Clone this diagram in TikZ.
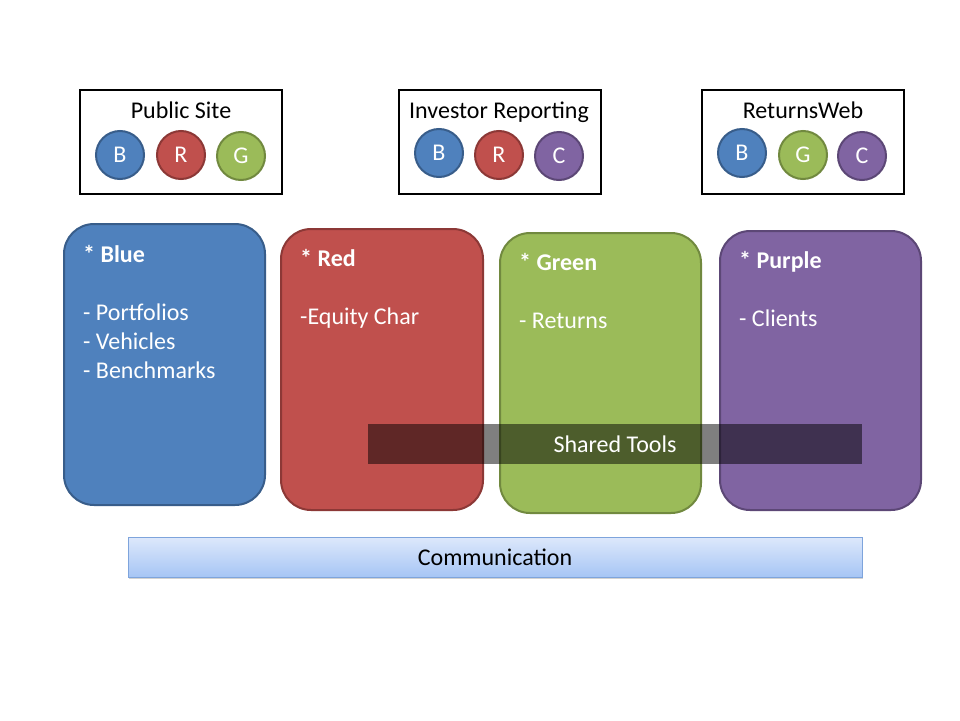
\documentclass[tikz,border=0pt]{standalone}
\usepackage{fontspec}
\setmainfont{Carlito}
\usetikzlibrary{shadows}
\definecolor{bfill}{HTML}{4F81BD}\definecolor{bline}{HTML}{385D8A}
\definecolor{rfill}{HTML}{C0504D}\definecolor{rline}{HTML}{8C3836}
\definecolor{gfill}{HTML}{9BBB59}\definecolor{gline}{HTML}{71893F}
\definecolor{pfill}{HTML}{8064A2}\definecolor{pline}{HTML}{5C4776}
\definecolor{commtop}{HTML}{DDE8FB}\definecolor{commbot}{HTML}{A6C5F5}
\definecolor{commline}{HTML}{7EA4DC}
\begin{document}
\begin{tikzpicture}[x=1pt,y=-1pt,
  every node/.style={font=\fontsize{24}{29}\selectfont},
  sitebox/.style={draw=black,line width=2.4pt,fill=white},
  sitetitle/.style={anchor=base,text=black,inner sep=0pt},
  dot/.style={circle,minimum size=48pt,inner sep=0pt,line width=2pt,text=white},
  dotb/.style={dot,fill=bfill,draw=bline},
  dotr/.style={dot,fill=rfill,draw=rline},
  dotg/.style={dot,fill=gfill,draw=gline},
  dotp/.style={dot,fill=pfill,draw=pline},
  group/.style={rounded corners=30pt,line width=2pt},
  grouptext/.style={anchor=north west,text=white,align=left,inner sep=0pt}]
\useasboundingbox (0,0) rectangle (960,720);
\fill[white] (0,0) rectangle (960,720);

% site boxes with their colour dots
\draw[sitebox] (80,90) rectangle (282,194);
\node[sitetitle] (pst) at (181,118) {Public Site};
\node[dotb] (psb) at (120,155) {B};
\node[dotr] (psr) at (181,155) {R};
\node[dotg] (psg) at (241,156) {G};

\draw[sitebox] (399,90) rectangle (601,194);
\node[sitetitle] (irt) at (499,118) {Investor Reporting};
\node[dotb] (irb) at (439,153) {B};
\node[dotr] (irr) at (499,155) {R};
\node[dotp] (irc) at (559,156) {C};

\draw[sitebox] (702,90) rectangle (904,194);
\node[sitetitle] (rwt) at (803,118) {ReturnsWeb};
\node[dotb] (rwb) at (742,153) {B};
\node[dotg] (rwg) at (803,155) {G};
\node[dotp] (rwc) at (862,156) {C};

% team groups
\draw[group,fill=bfill,draw=bline] (64,224) rectangle (265,505);
\node[grouptext] (blue) at (83,245) {\textbf{* Blue}\\[29pt]- Portfolios\\- Vehicles\\- Benchmarks};
\draw[group,fill=rfill,draw=rline] (281,229) rectangle (483,510);
\node[grouptext] (red) at (300,249) {\textbf{* Red}\\[29pt]-Equity Char};
\draw[group,fill=gfill,draw=gline] (500,233) rectangle (701,513);
\node[grouptext] (green) at (519,253) {\textbf{* Green}\\[29pt]- Returns};
\draw[group,fill=pfill,draw=pline] (720,231) rectangle (921,510);
\node[grouptext] (purple) at (739,251) {\textbf{* Purple}\\[29pt]- Clients};

% shared tools overlay
\fill[black,fill opacity=0.5] (368,424) rectangle (862,464);
\node[text=white,anchor=base,inner sep=0pt] (tools) at (615,452) {Shared Tools};

% communication bar
\shade[top color=commtop,bottom color=commbot,draw=commline,line width=0.8pt,
  drop shadow={shadow xshift=1pt,shadow yshift=-2pt,opacity=0.35}]
  (128,537) rectangle (862,577);
\node[text=black,anchor=base,inner sep=0pt] (comm) at (495,565) {Communication};
\end{tikzpicture}
\end{document}
